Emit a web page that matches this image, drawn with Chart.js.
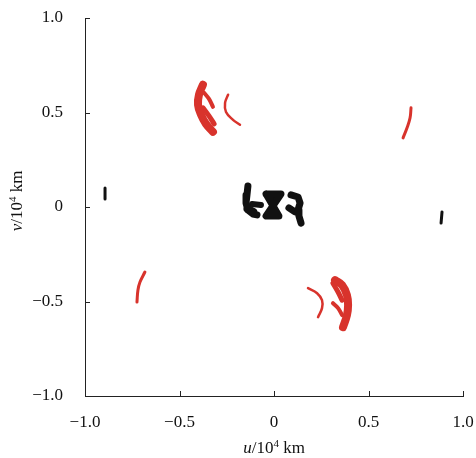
<!DOCTYPE html>
<html>
<head>
<meta charset="utf-8">
<script src="https://cdn.jsdelivr.net/npm/chart.js@4.4.1/dist/chart.umd.min.js"></script>
<style>
  html, body { margin: 0; padding: 0; background: #fff; }
  #wrap { width: 476px; height: 458px; }
</style>
</head>
<body>
<div id="wrap"><canvas id="uv"></canvas></div>
<script>
// tick values and their printed labels
const tickValues = [-1, -0.5, 0, 0.5, 1];
const tickLabels = ['\u22121.0', '\u22120.5', '0', '0.5', '1.0'];

// red tracks (u, v) in 10^4 km
const redOuter = [[-0.376, 0.647], [-0.397, 0.594], [-0.402, 0.541], [-0.386, 0.488], [-0.360, 0.440], [-0.323, 0.398]];
const redBranchA = [[-0.370, 0.604], [-0.344, 0.572], [-0.323, 0.530]];
const redBranchB = [[-0.376, 0.525], [-0.344, 0.482], [-0.317, 0.440]];
const redThin = [[-0.243, 0.594], [-0.259, 0.551], [-0.254, 0.503], [-0.217, 0.461], [-0.180, 0.435]];
const redFar = [[0.725, 0.525], [0.720, 0.472], [0.704, 0.419], [0.683, 0.366]];
const redFarConj = [[-0.683, -0.344], [-0.709, -0.397], [-0.720, -0.440], [-0.725, -0.503]];
const redThinConj = [[0.180, -0.429], [0.228, -0.456], [0.254, -0.493], [0.254, -0.535], [0.233, -0.583]];
const redOuterConj = [[0.323, -0.387], [0.360, -0.413], [0.386, -0.466], [0.392, -0.519], [0.386, -0.572], [0.365, -0.636]];
const redBranchAConj = [[0.312, -0.509], [0.339, -0.535], [0.360, -0.572]];
const redBranchBConj = [[0.312, -0.403], [0.339, -0.450], [0.360, -0.493]];

// black tracks
const blackLeft = [[-0.894, 0.101], [-0.894, 0.042]];
const blackRight = [[0.889, -0.026], [0.884, -0.085]];
const blobLeft = [[-0.138, 0.111], [-0.143, 0.064], [-0.148, 0.021], [-0.138, -0.016], [-0.111, -0.037], [-0.090, -0.042]];
const blobLeftArm = [[-0.116, 0.016], [-0.069, 0.011]];
const blobLeftFoot = [[-0.140, -0.010], [-0.110, -0.025]];
const blobMiddle = [[-0.042, 0.069], [0.037, 0.069], [-0.042, -0.048], [0.026, -0.048], [-0.042, 0.069]];
const blobMiddleCore = [[-0.003, 0.064], [-0.008, -0.043]];
const blobRight = [[0.090, 0.064], [0.127, 0.053], [0.138, 0.021], [0.127, -0.016], [0.132, -0.048], [0.143, -0.085]];
const blobRightBulge = [[0.079, -0.005], [0.111, -0.026]];

const RED = '#d8332c';
const BLACK = '#111111';

function track(points, color, width, tension) {
    return {
        data: points.map(p => ({ x: p[0], y: p[1] })),
        showLine: true,
        borderColor: color,
        backgroundColor: color,
        borderWidth: width,
        borderCapStyle: 'round',
        borderJoinStyle: 'round',
        pointRadius: 0,
        tension: tension
    };
}

const datasets = [
    track(redOuter, RED, 8, 0.4),
    track(redBranchA, RED, 4, 0.4),
    track(redBranchB, RED, 5, 0.4),
    track(redThin, RED, 2.5, 0.4),
    track(redFar, RED, 3, 0.4),
    track(redFarConj, RED, 3, 0.4),
    track(redThinConj, RED, 2.5, 0.4),
    track(redOuterConj, RED, 8, 0.4),
    track(redBranchAConj, RED, 4, 0.4),
    track(redBranchBConj, RED, 5, 0.4),
    track(blackLeft, BLACK, 3, 0),
    track(blackRight, BLACK, 3, 0),
    track(blobLeft, BLACK, 7, 0),
    track(blobLeftArm, BLACK, 6, 0),
    track(blobLeftFoot, BLACK, 8, 0),
    track(blobMiddle, BLACK, 7, 0),
    track(blobMiddleCore, BLACK, 7, 0),
    track(blobRight, BLACK, 7, 0),
    track(blobRightBulge, BLACK, 7, 0)
];

// inward tick marks and the axis titles
const axisExtras = {
    id: 'axisExtras',
    afterDraw(chart) {
        const ctx = chart.ctx;
        const xs = chart.scales.x;
        const ys = chart.scales.y;
        const area = chart.chartArea;
        ctx.save();
        ctx.strokeStyle = '#222';
        ctx.lineWidth = 1;
        tickValues.forEach(v => {
            const px = Math.round(xs.getPixelForValue(v)) + 0.5;
            ctx.beginPath();
            ctx.moveTo(px, area.bottom);
            ctx.lineTo(px, area.bottom - 5);
            ctx.stroke();
            const py = Math.round(ys.getPixelForValue(v)) + 0.5;
            ctx.beginPath();
            ctx.moveTo(area.left, py);
            ctx.lineTo(area.left + 5, py);
            ctx.stroke();
        });

        ctx.fillStyle = '#111';
        ctx.textBaseline = 'alphabetic';
        const drawTitle = (letter, cx, cy) => {
            const parts = [
                { t: letter, f: 'italic 17px "Liberation Serif"', dy: 0 },
                { t: '/10', f: '17px "Liberation Serif"', dy: 0 },
                { t: '4', f: '11px "Liberation Serif"', dy: -6 },
                { t: ' km', f: '17px "Liberation Serif"', dy: 0 }
            ];
            let total = 0;
            parts.forEach(p => { ctx.font = p.f; p.w = ctx.measureText(p.t).width; total += p.w; });
            let x = cx - total / 2;
            parts.forEach(p => {
                ctx.font = p.f;
                ctx.fillText(p.t, x, cy + p.dy);
                x += p.w;
            });
        };
        drawTitle('u', (area.left + area.right) / 2, 453);
        ctx.translate(22, (area.top + area.bottom) / 2 - 6);
        ctx.rotate(-Math.PI / 2);
        drawTitle('v', 0, 0);
        ctx.restore();
    }
};

const tickFont = { family: '"Liberation Serif"', size: 17 };

new Chart(document.getElementById('uv'), {
    type: 'scatter',
    data: { datasets: datasets },
    options: {
        responsive: true,
        maintainAspectRatio: false,
        animation: false,
        layout: { padding: { top: 18, right: 13, left: 0, bottom: 0 } },
        plugins: { legend: { display: false }, tooltip: { enabled: false } },
        scales: {
            x: {
                type: 'linear',
                min: -1, max: 1,
                afterBuildTicks: s => { s.ticks = tickValues.map(v => ({ value: v })); },
                afterFit: s => { s.height = 62; s.paddingLeft = 0; s.paddingRight = 0; },
                grid: { display: false },
                border: { display: true, color: '#222', width: 1 },
                ticks: {
                    color: '#111', font: tickFont, padding: 8, maxRotation: 0,
                    callback: v => tickLabels[tickValues.indexOf(v)]
                }
            },
            y: {
                type: 'linear',
                min: -1, max: 1,
                afterBuildTicks: s => { s.ticks = tickValues.map(v => ({ value: v })); },
                afterFit: s => { s.width = 85; s.paddingTop = 0; s.paddingBottom = 0; },
                grid: { display: false },
                border: { display: true, color: '#222', width: 1 },
                ticks: {
                    color: '#111', font: tickFont, padding: 14,
                    callback: v => tickLabels[tickValues.indexOf(v)]
                }
            }
        }
    },
    plugins: [axisExtras]
});
</script>
</body>
</html>
